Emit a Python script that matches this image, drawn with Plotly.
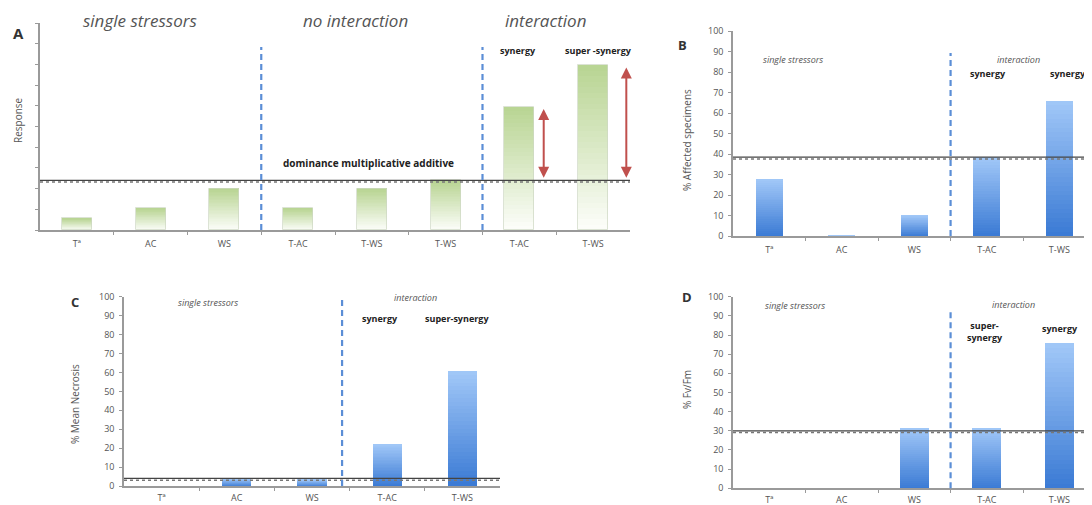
import plotly.graph_objects as go

# page is 1092x505; the browser's default 8px body margin offsets the figure
OFF = 8
W, H = 1092 - OFF, 505 - OFF

# ---------------- data ----------------
cats_a = ["Tª", "AC", "WS", "T-AC", "T-WS", "T-WS", "T-AC", "T-WS"]
vals_a = [0.56, 1.05, 2.0, 1.05, 2.0, 2.4, 5.95, 7.95]
thr_a = 2.4

cats_b = ["Tª", "AC", "WS", "T-AC", "T-WS"]
vals_b = [27.8, 0.3, 10.2, 38.5, 65.9]
thr_b = 38.5

cats_c = ["Tª", "AC", "WS", "T-AC", "T-WS"]
vals_c = [0.0, 4.2, 3.6, 22.5, 60.9]
thr_c = 4.0

cats_d = ["Tª", "AC", "WS", "T-AC", "T-WS"]
vals_d = [0.0, 0.0, 31.5, 31.5, 75.8]
thr_d = 30.0

# ---------------- helpers ----------------
def fx(x):
    return min(1.0, (x - OFF) / W)

def fy(y):
    return 1 - (y - OFF) / H

def mix(c0, c1, f):
    return "rgb(%d,%d,%d)" % tuple(round(a + (b - a) * f) for a, b in zip(c0, c1))

GREEN_TOP, GREEN_BOT = (184, 212, 146), (253, 254, 251)
BLUE_TOP, BLUE_BOT = (162, 200, 248), (58, 122, 212)
NSEG = 30

fig = go.Figure()

def gradient_bars(vals, xa, ya, top, bot, width, outline=None):
    xs = list(range(len(vals)))
    for k in range(NSEG):
        f = (k + 0.5) / NSEG
        fig.add_trace(go.Bar(
            x=xs, y=[v / NSEG for v in vals], base=[v * k / NSEG for v in vals],
            width=width, marker=dict(color=mix(bot, top, f), line=dict(width=0)),
            xaxis=xa, yaxis=ya, showlegend=False, hoverinfo="skip"))
    if outline:
        fig.add_trace(go.Bar(
            x=xs, y=vals, width=width,
            marker=dict(color="rgba(0,0,0,0)", line=dict(width=1, color=outline)),
            xaxis=xa, yaxis=ya, showlegend=False, hoverinfo="skip"))

gradient_bars(vals_a, "x", "y", GREEN_TOP, GREEN_BOT, 0.41, outline="rgba(205,215,195,0.7)")
gradient_bars(vals_b, "x2", "y2", BLUE_TOP, BLUE_BOT, 0.37)
gradient_bars(vals_c, "x3", "y3", BLUE_TOP, BLUE_BOT, 0.39)
gradient_bars(vals_d, "x4", "y4", BLUE_TOP, BLUE_BOT, 0.40)

TICKFONT = dict(family="Open Sans, Liberation Sans, sans-serif", size=9, color="#555")
AXCOL = "#9a9a9a"

def xaxis(domain, cats, anchor, rng, standoff=4):
    n = len(cats)
    return dict(domain=domain, anchor=anchor, range=rng, automargin=False,
                tickmode="array", tickvals=list(range(n)), ticktext=cats,
                ticks="", showgrid=False, zeroline=False,
                showline=True, linecolor=AXCOL, linewidth=1.5,
                tickfont=TICKFONT, ticklabelstandoff=standoff,
                minor=dict(tickmode="array", tickvals=[i + 0.5 for i in range(n - 1)],
                           ticks="outside", ticklen=3, tickcolor=AXCOL, showgrid=False))

def yaxis(domain, anchor, rng, dtick, labels=True):
    return dict(domain=domain, anchor=anchor, range=rng, dtick=dtick, tick0=0, automargin=False,
                showgrid=False, zeroline=False, showline=True, linecolor=AXCOL, linewidth=1.5,
                ticks="outside", ticklen=3, tickcolor=AXCOL,
                showticklabels=labels, tickfont=TICKFONT, ticklabelstandoff=3)

layout = dict(
    width=W, height=H, margin=dict(l=0, r=0, t=0, b=0, autoexpand=False),
    paper_bgcolor="white", plot_bgcolor="rgba(0,0,0,0)", barmode="overlay",
    bargap=0,
    xaxis=xaxis([fx(40), fx(630)], cats_a, "y", [-0.5, 7.5]),
    yaxis=yaxis([fy(230), fy(23)], "x", [0, 10], 1, labels=False),
    xaxis2=xaxis([fx(733), 1.0], cats_b, "y2", [-0.5, 4.45]),
    yaxis2=yaxis([fy(236), fy(31)], "x2", [0, 100], 10),
    xaxis3=xaxis([fx(124), fx(500)], cats_c, "y3", [-0.5, 4.5], standoff=2),
    yaxis3=yaxis([fy(486), fy(296.7)], "x3", [0, 100], 10),
    xaxis4=xaxis([fx(733), 1.0], cats_d, "y4", [-0.5, 4.45], standoff=2),
    yaxis4=yaxis([fy(488.3), fy(296.7)], "x4", [0, 100], 10),
)
fig.update_layout(**layout)

# ---------------- threshold (double) lines & dashed separators ----------------
shapes = []
def threshold(xa, ya, thr, off):
    shapes.append(dict(type="line", xref=xa + " domain", yref=ya, x0=0, x1=1, y0=thr, y1=thr,
                       line=dict(color="#444", width=1.2)))
    shapes.append(dict(type="line", xref=xa + " domain", yref=ya, x0=0, x1=1,
                       y0=thr - off, y1=thr - off, line=dict(color="#777", width=1.5, dash="dot")))

threshold("x", "y", thr_a, 0.08)
threshold("x2", "y2", thr_b, 0.9)
threshold("x3", "y3", thr_c, 0.9)
threshold("x4", "y4", thr_d, 0.9)

def separator(xa, ya, xpos, top):
    shapes.append(dict(type="line", xref=xa, yref=ya + " domain", x0=xpos, x1=xpos, y0=0, y1=top,
                       line=dict(color="#5b8ed6", width=2.2, dash="6px,4px")))

separator("x", "y", 2.5, 0.884)
separator("x", "y", 5.5, 0.884)
separator("x2", "y2", 2.5, 0.893)
separator("x3", "y3", 2.4, 0.99)
separator("x4", "y4", 2.5, 0.94)
fig.update_layout(shapes=shapes)

# ---------------- text ----------------
ann = []
FONT = "Open Sans, Liberation Sans, sans-serif"
def text(s, x, y, size, color="#444", bold=False, italic=False, angle=0):
    if bold:
        s = "<b>%s</b>" % s
    if italic:
        s = "<i>%s</i>" % s
    ann.append(dict(text=s, x=fx(x), y=fy(y), xref="paper", yref="paper", showarrow=False,
                    xanchor="center", yanchor="middle", textangle=angle,
                    font=dict(family=FONT, size=size, color=color)))

# Panel A
text("A", 18, 33, 15, "#333", bold=True)
text("single stressors", 140, 20, 17, "#555", italic=True)
text("no interaction", 355, 20, 17, "#555", italic=True)
text("interaction", 545, 20, 17, "#555", italic=True)
text("Response", 18, 120, 10, "#555", angle=-90)
text("dominance multiplicative additive", 368, 163, 10, "#222", bold=True)
text("synergy", 518, 50, 9, "#222", bold=True)
text("super -synergy", 598, 50, 9, "#222", bold=True)

# Panel B
text("B", 682, 45, 13, "#333", bold=True)
text("% Affected specimens", 687, 140, 10, "#555", angle=-90)
text("single stressors", 793, 59, 9, "#555", italic=True)
text("interaction", 1018, 59, 9, "#555", italic=True)
text("synergy", 988, 74, 9, "#222", bold=True)
text("synergy", 1068, 74, 9, "#222", bold=True)

# Panel C
text("C", 75, 302, 13, "#333", bold=True)
text("% Mean Necrosis", 75, 404, 10, "#555", angle=-90)
text("single stressors", 208, 302, 9, "#555", italic=True)
text("interaction", 415, 297, 9, "#555", italic=True)
text("synergy", 380, 318, 9, "#222", bold=True)
text("super-synergy", 457, 318, 9, "#222", bold=True)

# Panel D
text("D", 687, 297, 13, "#333", bold=True)
text("% Fv/Fm", 687, 390, 10, "#555", angle=-90)
text("single stressors", 795, 305, 9, "#555", italic=True)
text("interaction", 1013, 304, 9, "#555", italic=True)
text("super-<br>synergy", 985, 331, 9, "#222", bold=True)
text("synergy", 1060, 328, 9, "#222", bold=True)

# red double-headed arrows in panel A (from threshold to bar top)
arrow_dx = [0.33, 0.45]
for i, dx in zip([6, 7], arrow_dx):
    ann.append(dict(x=i + dx, y=vals_a[i] - 0.1, ax=i + dx, ay=thr_a + 0.05,
                    xref="x", yref="y", axref="x", ayref="y",
                    showarrow=True, arrowhead=2, startarrowhead=2, arrowside="end+start",
                    arrowsize=1.1, startarrowsize=1.1, arrowwidth=2, arrowcolor="#c0504d", text=""))

fig.update_layout(annotations=ann)
fig.write_html("out.html")
